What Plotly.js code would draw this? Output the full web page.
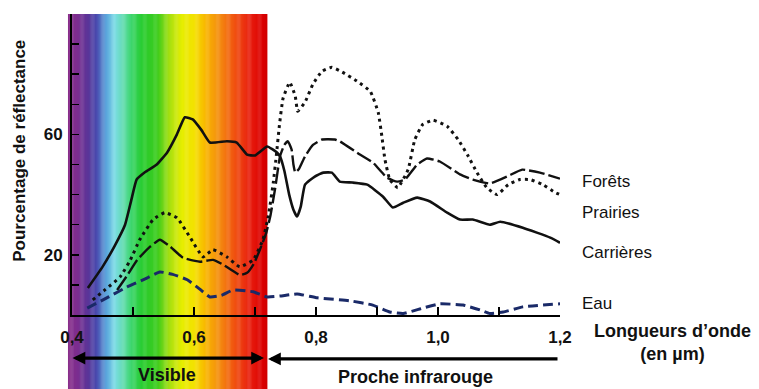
<!DOCTYPE html>
<html>
<head>
<meta charset="utf-8">
<script src="https://cdn.plot.ly/plotly-3.0.1.min.js"></script>
<style>html,body{margin:0;padding:0;background:#fff;}#chart{width:759px;height:389px;}</style>
</head>
<body>
<div id="chart"></div>
<script>
// ---- data (wavelength in µm, reflectance in %) ----
const carrieresX = [0.426,0.45,0.47,0.487,0.497,0.506,0.52,0.539,0.556,0.572,0.585,0.598,0.612,0.626,0.654,0.67,0.687,0.7,0.72,0.736,0.741,0.748,0.756,0.763,0.769,0.775,0.782,0.798,0.812,0.826,0.839,0.86,0.884,0.91,0.926,0.943,0.966,0.987,1.015,1.036,1.057,1.085,1.102,1.139,1.184,1.2];
const carrieresY = [9,16,23,30,38,45,47.5,50,54,60,65.7,65,61.5,57.3,57.7,57.3,53.3,53,56,54,52.7,48,40,35,32.7,36,43.3,46,47.3,47.3,44.3,44,43.3,39.3,35.7,37.3,39,37.7,34,31.7,31.7,30,31,29,25.7,24];

const foretsX = [0.474,0.49,0.507,0.528,0.544,0.561,0.582,0.61,0.631,0.648,0.675,0.687,0.698,0.708,0.718,0.725,0.733,0.741,0.748,0.754,0.76,0.763,0.766,0.772,0.782,0.795,0.81,0.831,0.839,0.872,0.893,0.916,0.933,0.946,0.966,0.982,1.003,1.036,1.057,1.085,1.113,1.138,1.167,1.2];
const foretsY = [8.3,13,18.3,22.7,25,22.7,19,17.7,18.3,16.7,13.3,14,17,21.7,27,32.7,42,52.7,56.5,57.7,55,50,47.3,48.5,52.7,56.5,58.3,58.3,57.7,53.3,50.7,45.7,44.3,45,50,52,51,46.7,45,43.7,46,48.3,47.3,45.3];

const prairiesX = [0.434,0.455,0.479,0.495,0.511,0.533,0.552,0.572,0.593,0.615,0.631,0.654,0.675,0.697,0.713,0.722,0.73,0.735,0.74,0.746,0.757,0.766,0.77,0.782,0.795,0.81,0.826,0.843,0.867,0.889,0.902,0.908,0.913,0.921,0.934,0.951,0.962,0.975,0.992,1.015,1.033,1.048,1.064,1.08,1.097,1.115,1.134,1.151,1.172,1.192,1.2];
const prairiesY = [5,8.5,12.7,18,25,31.7,34,32.3,26,19.3,21.7,19.3,16,18.3,25,33,44,53,63,72,77.3,72.7,67.7,70.7,76.7,81,82.3,80.7,77.7,74.3,67.3,59.3,51.7,45,42.3,48.3,58.3,63.3,64.7,62.7,58.3,53.3,47.3,42.3,40,43.3,45,45,43.3,40.7,40];

const eauX = [0.425,0.46,0.49,0.52,0.544,0.565,0.589,0.61,0.626,0.645,0.664,0.697,0.72,0.741,0.769,0.802,0.856,0.893,0.921,0.943,0.97,1.003,1.041,1.069,1.085,1.107,1.139,1.2];
const eauY = [2.3,6,9.3,12,14.3,13.5,11.7,8.5,6,6.5,8.3,7.7,6,6.3,7,5.7,4.7,3.3,1,0.5,2,3.7,3.3,1.7,0.5,1,2.7,3.7];

const seriesNames = ["Forêts","Prairies","Carrières","Eau"];
const xTickVals = [0.4,0.6,0.8,1.0,1.2];
const xTickText = ["0,4","0,6","0,8","1,0","1,2"];
const yTickVals = [20,60];
const yTickText = ["20","60"];
const visibleBand = [0.3934, 0.7197];   // extent of the visible-spectrum band (µm)
const nirStart = 0.725;                 // start of near-infrared arrow (µm)

// ---- styling ----
const FONT = "Liberation Sans, Arial, sans-serif";
const X0 = 0.4, X1 = 1.2;
const px = v => (v - X0) / (X1 - X0);   // µm -> paper x

const specStops = [
  [0.3934,'#8a2e8a'],[0.4100,'#7a2e90'],[0.4260,'#5a3598'],[0.4400,'#4a4aae'],
  [0.4560,'#5aa4dc'],[0.4700,'#7cdce6'],[0.4840,'#62dcb0'],[0.4990,'#38d464'],
  [0.5150,'#28cc30'],[0.5400,'#3ccc1c'],[0.5600,'#a8e010'],[0.5803,'#e6ee00'],
  [0.6016,'#f4e000'],[0.618,'#f8b800'],[0.6426,'#f48a10'],[0.6672,'#f05010'],
  [0.6918,'#e82010'],[0.7115,'#dc0000'],[0.7197,'#d00000']
];
function hex2rgb(h){return [parseInt(h.substr(1,2),16),parseInt(h.substr(3,2),16),parseInt(h.substr(5,2),16)];}
function colorAt(u){
  for(let i=0;i<specStops.length-1;i++){
    const [a,ca]=specStops[i],[b,cb]=specStops[i+1];
    if(u>=a && u<=b){
      const t=(u-a)/(b-a), A=hex2rgb(ca), B=hex2rgb(cb);
      return 'rgb('+A.map((v,k)=>Math.round(v+(B[k]-v)*t)).join(',')+')';
    }
  }
  return specStops[specStops.length-1][1];
}
const shapes = [];
const N = 180;
for(let i=0;i<N;i++){
  const u0 = visibleBand[0] + (visibleBand[1]-visibleBand[0])*i/N;
  const u1 = visibleBand[0] + (visibleBand[1]-visibleBand[0])*(i+1)/N;
  shapes.push({type:'rect',xref:'paper',yref:'paper',x0:px(u0),x1:px(u1)+0.0008,y0:-0.3,y1:1,
    fillcolor:colorAt((u0+u1)/2),line:{width:0},layer:'below'});
}

const traces = [
  {x:foretsX,y:foretsY,name:seriesNames[0],mode:'lines',line:{color:'#111',width:2.4,dash:'16px,4px',shape:'spline',smoothing:0.4}},
  {x:prairiesX,y:prairiesY,name:seriesNames[1],mode:'lines',line:{color:'#111',width:3,dash:'3px,4px',shape:'spline',smoothing:0.4}},
  {x:carrieresX,y:carrieresY,name:seriesNames[2],mode:'lines',line:{color:'#111',width:2.6,shape:'spline',smoothing:0.4}},
  {x:eauX,y:eauY,name:seriesNames[3],mode:'lines',line:{color:'#1a2a68',width:3,dash:'10px,5px',shape:'spline',smoothing:0.4}}
];

// label positions (paper) for series names
const labelY = [0.445,0.339,0.209,0.037];
const annotations = seriesNames.map((n,i)=>({text:n,xref:'paper',yref:'paper',x:1.041,y:labelY[i],
  xanchor:'left',yanchor:'middle',showarrow:false,font:{family:FONT,size:17,color:'#111'}}));

annotations.push(
  {text:'<b>Pourcentage de réflectance</b>',xref:'paper',yref:'paper',x:-0.107,y:0.545,textangle:-90,
   xanchor:'center',yanchor:'middle',showarrow:false,font:{family:FONT,size:17,color:'#111'}},
  {text:'<b>Longueurs d’onde<br>(en µm)</b>',xref:'paper',yref:'paper',x:1.23,y:-0.093,
   xanchor:'center',yanchor:'middle',showarrow:false,font:{family:FONT,size:18,color:'#111'}},
  {text:'<b>Visible</b>',xref:'paper',yref:'paper',x:px((visibleBand[0]+visibleBand[1])/2),y:-0.199,
   xanchor:'center',yanchor:'middle',showarrow:false,font:{family:FONT,size:18,color:'#111'}},
  {text:'<b>Proche infrarouge</b>',xref:'paper',yref:'paper',x:px((nirStart+X1)/2),y:-0.206,
   xanchor:'center',yanchor:'middle',showarrow:false,font:{family:FONT,size:18,color:'#111'}},
  {text:'',xref:'paper',yref:'paper',x:px(0.7148),y:-0.143,ax:-193,ay:0,showarrow:true,
   arrowhead:2,startarrowhead:2,arrowside:'end+start',arrowwidth:3.2,arrowsize:0.8,startarrowsize:0.8,arrowcolor:'#000',standoff:0,startstandoff:0},
  {text:'',xref:'paper',yref:'paper',x:px(0.7213),y:-0.146,ax:291,ay:0,showarrow:true,
   arrowhead:2,arrowwidth:3.2,arrowsize:0.8,arrowcolor:'#000',standoff:0}
);

const layout = {
  width:759,height:389,
  margin:{l:72,r:199,t:14,b:74},
  paper_bgcolor:'#fff',plot_bgcolor:'rgba(0,0,0,0)',
  showlegend:false,
  font:{family:FONT,color:'#111'},
  xaxis:{range:[X0,X1],tickmode:'array',tickvals:xTickVals,ticktext:xTickText,
    ticks:'inside',ticklen:8,tickwidth:1.5,tickcolor:'#000',
    minor:{tickmode:'linear',tick0:0.4,dtick:0.1,ticks:'inside',ticklen:8,tickwidth:1.5,tickcolor:'#000'},
    showline:true,linewidth:2,linecolor:'#000',showgrid:false,zeroline:false,
    tickfont:{family:FONT,size:17,color:'#111',weight:'bold'},ticklabelstandoff:6},
  yaxis:{range:[0,100],tickmode:'array',tickvals:yTickVals,ticktext:yTickText,
    ticks:'inside',ticklen:7,tickwidth:1.5,tickcolor:'#000',
    minor:{tickmode:'linear',tick0:0,dtick:10,ticks:'inside',ticklen:7,tickwidth:1.5,tickcolor:'#000'},
    showline:true,linewidth:2,linecolor:'#000',showgrid:false,zeroline:false,
    tickfont:{family:FONT,size:17,color:'#111',weight:'bold'},ticklabelstandoff:4},
  shapes:shapes,
  annotations:annotations
};

Plotly.newPlot('chart',traces,layout,{displayModeBar:false,staticPlot:true});
</script>
</body>
</html>
